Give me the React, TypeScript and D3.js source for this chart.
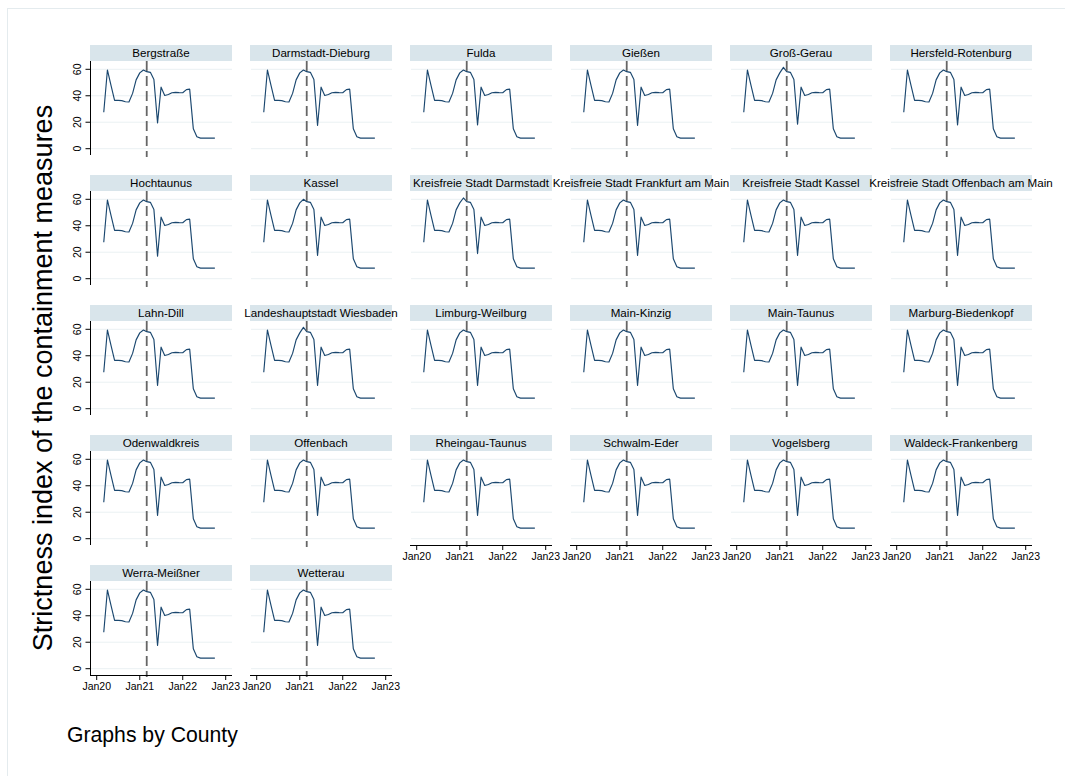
import React from "react";
import * as d3 from "d3";

const counties: string[] = [
  "Bergstraße", "Darmstadt-Dieburg", "Fulda", "Gießen", "Groß-Gerau", "Hersfeld-Rotenburg",
  "Hochtaunus", "Kassel", "Kreisfreie Stadt Darmstadt", "Kreisfreie Stadt Frankfurt am Main", "Kreisfreie Stadt Kassel", "Kreisfreie Stadt Offenbach am Main",
  "Lahn-Dill", "Landeshauptstadt Wiesbaden", "Limburg-Weilburg", "Main-Kinzig", "Main-Taunus", "Marburg-Biedenkopf",
  "Odenwaldkreis", "Offenbach", "Rheingau-Taunus", "Schwalm-Eder", "Vogelsberg", "Waldeck-Frankenberg",
  "Werra-Meißner", "Wetterau",
];

// monthly observations, Mar 2020 .. Oct 2022
const months: string[] = [
  "2020-03", "2020-04", "2020-05", "2020-06", "2020-07", "2020-08", "2020-09", "2020-10", "2020-11", "2020-12",
  "2021-01", "2021-02", "2021-03", "2021-04", "2021-05", "2021-06", "2021-07", "2021-08", "2021-09", "2021-10", "2021-11", "2021-12",
  "2022-01", "2022-02", "2022-03", "2022-04", "2022-05", "2022-06", "2022-07", "2022-08", "2022-09", "2022-10",
];

const baseIndex: number[] = [
  27.5, 59.5, 48, 36.5, 36.5, 36.3, 35.5, 35.3, 41.8, 52,
  57.3, 59.5, 58.2, 57.7, 52.3, 17.5, 46.5, 40.2, 41, 42.3, 42.6, 42.4,
  42.3, 44.6, 45, 15, 9, 8, 8, 8, 8, 8,
];

// per-county Feb 2021 peak and Jun 2021 dip
const peakFeb21: number[] = [
  59.5, 59.5, 59.5, 59.5, 61.5, 59.5,
  59.5, 60, 61, 59.5, 59.5, 59.5,
  59.5, 61.5, 59.5, 59.5, 59.5, 59.5,
  59.5, 59.5, 59.5, 59.5, 59.5, 59.5,
  59.5, 59.5,
];
const dipJun21: number[] = [
  19.5, 17.5, 18, 17.5, 18.5, 18,
  17, 17.5, 19, 17.5, 17.5, 17.5,
  17.5, 17.5, 17.5, 17.5, 17.5, 17.5,
  17.5, 17.5, 17.5, 17.5, 17.5, 17.5,
  17.5, 17.5,
];

const yTicks: number[] = [0, 20, 40, 60];
const xTickDates: string[] = ["2020-01-01", "2021-01-01", "2022-01-01", "2023-01-01"];
const markerDate = "2021-03-01";

const NCOL = 6;
const FONT = "'Liberation Sans', Arial, Helvetica, sans-serif";

export default function App() {
  const parseMonth = d3.timeParse("%Y-%m");
  const parseDay = d3.timeParse("%Y-%m-%d");
  const fmt = d3.timeFormat("%b%y");
  const monthDates = months.map((m) => parseMonth(m) as Date);
  const tickDates = xTickDates.map((d) => parseDay(d) as Date);
  const marker = parseDay(markerDate) as Date;

  const n = counties.length;
  const panels = counties.map((name, i) => {
    const row = Math.floor(i / NCOL);
    const col = i % NCOL;
    const left = 90 + 160 * col;
    const right = left + 142;
    const top = 61 + 130 * row;
    const bottom = 155 + 130 * row;
    const x = d3.scaleTime().domain([tickDates[0], tickDates[3]]).range([left + 6.7, left + 135.7]);
    const y = d3.scaleLinear().domain([0, 60]).range([148.7 + 130 * row, 69.3 + 130 * row]);
    const vals = baseIndex.map((v, k) => (months[k] === "2021-02" ? peakFeb21[i] : months[k] === "2021-06" ? dipJun21[i] : v));
    const line = d3.line<number>().x((_, k) => x(monthDates[k])).y((v) => y(v));
    const isBottom = i + NCOL >= n;
    return { name, row, col, left, right, top, bottom, x, y, path: line(vals) || "", isBottom };
  });

  return (
    <svg width={1065} height={776} style={{ position: "absolute", left: 0, top: 0, display: "block" }} fontFamily={FONT}>
      <rect x={0} y={0} width={1065} height={776} fill="#ffffff" />
      <rect x={7.5} y={8.5} width={1200} height={900} fill="none" stroke="#e4ebee" strokeWidth={1} />
      {panels.map((p) => (
        <g key={p.name}>
          {yTicks.map((t) => (
            <line key={t} x1={p.left + 1} x2={p.right} y1={p.y(t)} y2={p.y(t)} stroke="#eaf1f3" strokeWidth={1} />
          ))}
          <rect x={p.left} y={p.top - 16} width={142} height={16} fill="#d9e5eb" />
          <path d={p.path} fill="none" stroke="#1a476f" strokeWidth={1.15} strokeLinejoin="round" />
          <line x1={p.x(marker)} x2={p.x(marker)} y1={p.top} y2={p.bottom + 2} stroke="#666666" strokeWidth={1.8} strokeDasharray="10,5" />
          {p.col === 0 && (
            <g>
              <line x1={p.left + 0.5} x2={p.left + 0.5} y1={p.top} y2={p.bottom} stroke="#000" strokeWidth={1} />
              {yTicks.map((t) => (
                <g key={t}>
                  <line x1={p.left - 4.5} x2={p.left} y1={p.y(t)} y2={p.y(t)} stroke="#000" strokeWidth={1} />
                  <text transform={`translate(${p.left - 9},${p.y(t)}) rotate(-90)`} textAnchor="middle" fontSize={10.5} fill="#000">
                    {t}
                  </text>
                </g>
              ))}
            </g>
          )}
          {p.isBottom && (
            <g>
              <line x1={p.left} x2={p.right} y1={p.bottom + 0.5} y2={p.bottom + 0.5} stroke="#000" strokeWidth={1} />
              {tickDates.map((d) => (
                <g key={d.getTime()}>
                  <line x1={p.x(d)} x2={p.x(d)} y1={p.bottom} y2={p.bottom + 5} stroke="#000" strokeWidth={1} />
                  <text x={p.x(d)} y={p.bottom + 15} textAnchor="middle" fontSize={10.5} fill="#000">
                    {fmt(d)}
                  </text>
                </g>
              ))}
            </g>
          )}
        </g>
      ))}
      {panels.map((p) => (
        <text key={"s" + p.name} x={p.left + 71} y={p.top - 4} textAnchor="middle" fontSize={11.6} fill="#000">
          {p.name}
        </text>
      ))}
      <text transform={`translate(52,${378}) rotate(-90)`} textAnchor="middle" fontSize={27} fill="#000">
        Strictness index of the containment measures
      </text>
      <text x={67} y={742} fontSize={21.2} fill="#000">
        Graphs by County
      </text>
    </svg>
  );
}
